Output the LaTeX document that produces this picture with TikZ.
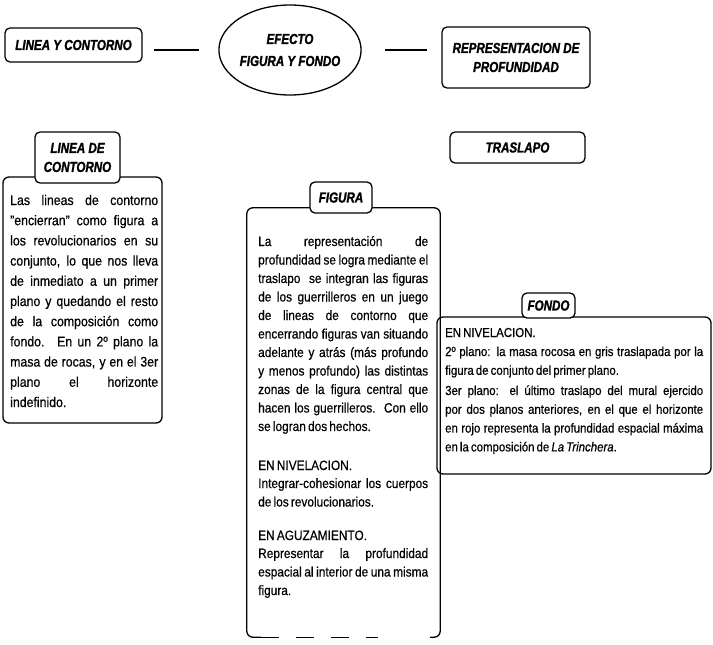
\documentclass[tikz,border=0pt]{standalone}
\usepackage{fontspec}
\setmainfont{Liberation Sans}[FakeStretch=0.88, WordSpace=0.65, FakeBold=0.5]
\newfontfamily\tfont{Liberation Sans}[FakeStretch=0.8, FakeBold=1.4]
\usetikzlibrary{shapes.geometric}
\tolerance=10000
\hbadness=10000
\begin{document}
\begin{tikzpicture}[x=1pt,y=-1pt,
  tbox/.style={draw, rounded corners=5pt, line width=1.3pt, fill=white, inner sep=0pt,
    align=center, font=\tfont\bfseries\itshape\fontsize{14.5}{19}\selectfont},
  bigbox/.style={draw, rounded corners=6pt, line width=1.3pt, inner sep=0pt},
  conn/.style={line width=1.3pt},
  txt/.style={anchor=base west, inner sep=0pt, align=justify},
  ltxt/.style={txt, text width=148pt, font=\fontsize{14}{20.2}\selectfont},
  mtxt/.style={txt, text width=170pt, font=\fontsize{13.5}{18.5}\selectfont},
  rtxt/.style={txt, text width=258pt, font=\fontsize{13}{18.8}\selectfont}
]
\useasboundingbox (0,0) rectangle (713,645);

% top row
\node[tbox, minimum width=137pt, minimum height=34pt] (lc) at (73.5,45) {LINEA Y CONTORNO};
\node[draw, ellipse, line width=1.3pt, minimum width=125pt, minimum height=90pt, inner sep=0pt,
  align=center, font=\tfont\bfseries\itshape\fontsize{14.5}{22}\selectfont] (ef) at (290,50) {EFECTO\\FIGURA Y FONDO};
\node[tbox, minimum width=148pt, minimum height=61pt] (rp) at (516,57.5) {REPRESENTACION DE\\PROFUNDIDAD};

\draw[conn, shorten <=11pt, shorten >=19pt] ([yshift=-5pt]lc.east) -- ([yshift=-5pt]lc.east -| ef.west);
\draw[conn, shorten <=23pt, shorten >=14pt] ([yshift=0pt]ef.east) -- ([yshift=0pt]ef.east -| rp.west);

% big boxes
\node[bigbox, minimum width=159pt, minimum height=246pt] (lcb) at (82.5,300) {};
\node[inner sep=0pt, minimum width=193pt, minimum height=429pt] (fb) at (343.5,422.5) {};
\draw[conn, rounded corners=6pt] ([xshift=14pt]fb.south west) -- (fb.south west) -- (fb.north west)
  -- (fb.north east) -- (fb.south east) -- ([xshift=-10pt]fb.south east);
\draw[conn, dash pattern=on 18pt off 17pt] ([xshift=14pt]fb.south west) -- ([xshift=-62pt]fb.south east);
\node[bigbox, minimum width=274pt, minimum height=157pt] (fob) at (574,395.5) {};

% label boxes
\node[tbox, minimum width=85pt, minimum height=51pt] (ldc) at (77.5,157.5) {LINEA DE\\CONTORNO};
\node[tbox, minimum width=135pt, minimum height=31pt] (tr) at (517.5,147.5) {TRASLAPO};
\node[tbox, minimum width=62pt, minimum height=31pt] (fi) at (341,197.5) {FIGURA};
\node[tbox, minimum width=53pt, minimum height=25pt] (fo) at (548.5,305.5) {FONDO};

% left text
\node[ltxt] (lt) at (10,205) {Las lineas de contorno\linebreak
"encierran" como figura a\linebreak
los revolucionarios en su\linebreak
conjunto, lo que nos lleva\linebreak
de inmediato a un primer\linebreak
plano y quedando el resto\linebreak
de la composición como\linebreak
fondo. En un 2º plano la\linebreak
masa de rocas, y en el 3er\linebreak
plano el horizonte\linebreak
indefinido.};

% middle text
\node[mtxt] (mt1) at (258,246) {La representación de\linebreak
profundidad se logra mediante el\linebreak
traslapo \ se integran las figuras\linebreak
de los guerrilleros en un juego\linebreak
de lineas de contorno que\linebreak
encerrando figuras van situando\linebreak
adelante y atrás (más profundo\linebreak
y menos profundo) las distintas\linebreak
zonas de la figura central que\linebreak
hacen los guerrilleros. Con ello\linebreak
se logran dos hechos.};
\node[mtxt] (mh1) at (258,470) {EN NIVELACION.};
\node[mtxt] (mt2) at (258,488) {Integrar-cohesionar los cuerpos\linebreak
de los revolucionarios.};
\node[mtxt] (mh2) at (258,540) {EN AGUZAMIENTO.};
\node[mtxt] (mt3) at (258,558) {Representar la profundidad\linebreak
espacial al interior de una misma\linebreak
figura.};

% right text
\node[rtxt] (rh) at (445,337) {EN NIVELACION.};
\node[rtxt] (rt1) at (445,356) {2º plano: la masa rocosa en gris traslapada por la\linebreak
figura de conjunto del primer plano.};
\node[rtxt] (rt2) at (445,395) {3er plano: el último traslapo del mural ejercido\linebreak
por dos planos anteriores, en el que el horizonte\linebreak
en rojo representa la profundidad espacial máxima\linebreak
en la composición de \textit{La Trinchera}.};
\end{tikzpicture}
\end{document}
